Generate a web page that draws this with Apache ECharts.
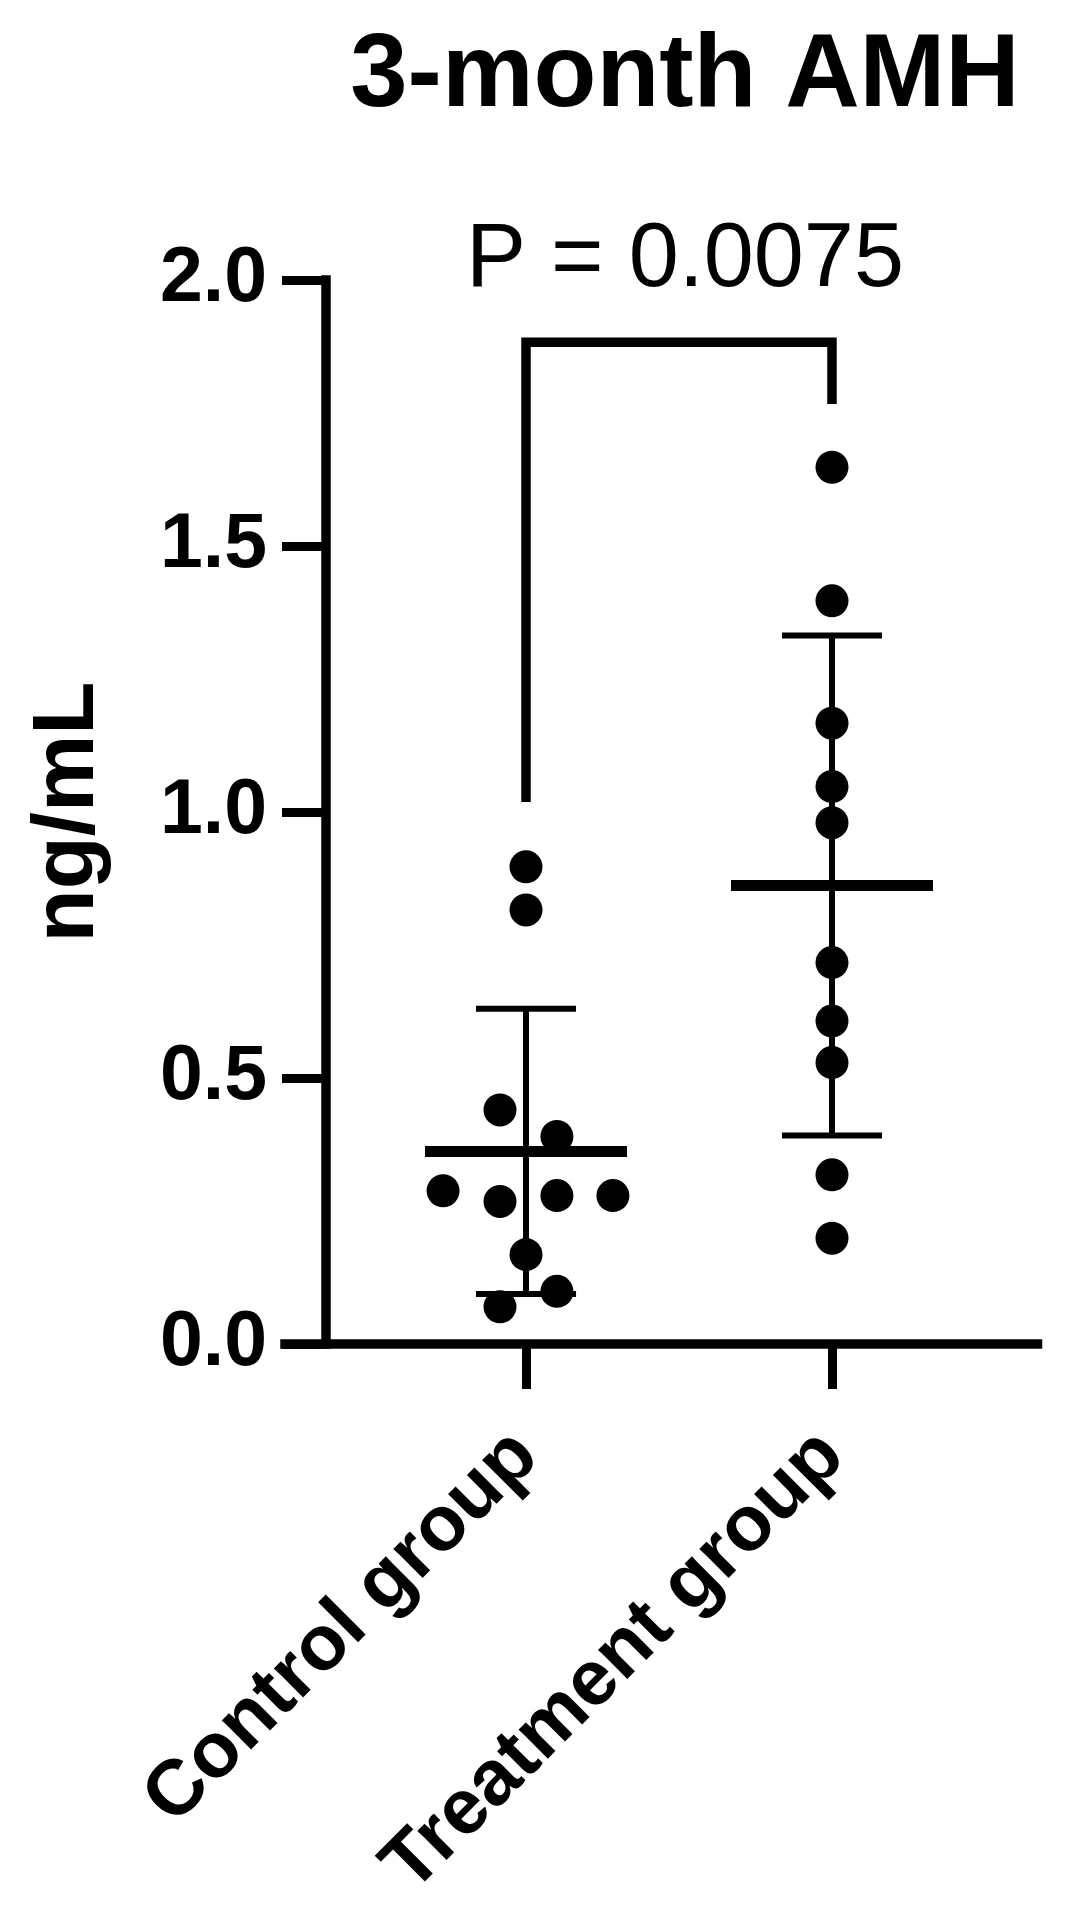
<!DOCTYPE html>
<html>
<head>
<meta charset="utf-8">
<title>3-month AMH</title>
<script src="https://cdn.jsdelivr.net/npm/echarts@6/dist/echarts.min.js"></script>
<style>
  html, body { margin: 0; padding: 0; background: #fff; }
  #chart { width: 1066px; height: 1928px; }
</style>
</head>
<body>
<div id="chart"></div>
<script>
// groups and their position on the x axis
var groupNames = ['Control group', 'Treatment group'];
var groupPos = [1, 2];

// individual values (ng/mL)
var controlVals = [0.897, 0.816, 0.440, 0.390, 0.288, 0.268, 0.279, 0.279, 0.168, 0.099, 0.070];
var controlJitter = [0, 0, -0.085, 0.101, -0.271, -0.085, 0.101, 0.284, 0, 0.101, -0.085];
var treatmentVals = [1.648, 1.397, 1.167, 1.048, 0.980, 0.717, 0.607, 0.529, 0.318, 0.199];
var treatmentJitter = [0, 0, 0, 0, 0, 0, 0, 0, 0, 0];

// mean and SD per group
var groupMean = [0.362, 0.862];
var groupSD = [0.268, 0.470];

// y ticks
var yTicks = [0, 0.5, 1.0, 1.5, 2.0];

// significance bracket: left leg bottom, bar height, right leg bottom
var bracketY = [1.019, 1.883, 1.767];
var pText = 'P = 0.0075';

var FONT = "'Liberation Sans', Arial, sans-serif";

var chart = echarts.init(document.getElementById('chart'), null, { renderer: 'canvas' });

function points(vals, jitter, x0) {
	var out = [];
	for (var i = 0; i < vals.length; i++) {
		out.push([x0 + jitter[i], vals[i]]);
	}
	return out;
}

var summaryData = [];
for (var g = 0; g < groupPos.length; g++) {
	summaryData.push([groupPos[g], groupMean[g], groupSD[g]]);
}

var bracketData = [
	[groupPos[0], bracketY[0]],
	[groupPos[0], bracketY[1]],
	[groupPos[1], bracketY[1]],
	[groupPos[1], bracketY[2]]
];

var option = {
	backgroundColor: '#fff',
	animation: false,
	title: [
		{
			text: '3-month AMH',
			left: 680,
			top: 21,
			textAlign: 'center',
			textStyle: { fontFamily: FONT, fontSize: 103, fontWeight: 'bold', color: '#000' }
		},
		{
			text: pText,
			left: 680,
			top: 211,
			textAlign: 'center',
			textStyle: { fontFamily: FONT, fontSize: 90, fontWeight: 'normal', color: '#000' }
		}
	],
	grid: {
		left: 285,
		right: 28.5,
		top: 280,
		bottom: 584,
		containLabel: false
	},
	xAxis: {
		type: 'value',
		min: 0.2124,
		max: 2.6716,
		splitLine: { show: false },
		axisLine: { show: true, onZero: false, lineStyle: { color: '#000', width: 9.5, cap: 'square' } },
		axisTick: {
			show: true,
			customValues: groupPos,
			length: 45,
			lineStyle: { color: '#000', width: 9 }
		},
		axisLabel: {
			show: true,
			customValues: groupPos,
			rotate: 45,
			margin: 100,
			fontFamily: FONT,
			fontSize: 78,
			fontWeight: 'bold',
			color: '#000',
			formatter: function (v) {
				var i = groupPos.indexOf(Math.round(v));
				return i >= 0 ? groupNames[i] : '';
			}
		}
	},
	yAxis: {
		type: 'value',
		min: yTicks[0],
		max: yTicks[yTicks.length - 1],
		interval: 0.5,
		offset: -41,
		name: 'ng/mL',
		nameLocation: 'middle',
		nameRotate: 90,
		nameGap: 213,
		nameTextStyle: { fontFamily: FONT, fontSize: 87, fontWeight: 'bold', color: '#000' },
		splitLine: { show: false },
		axisLine: { show: true, lineStyle: { color: '#000', width: 9.5, cap: 'square' } },
		axisTick: { show: true, length: 44, lineStyle: { color: '#000', width: 9 } },
		axisLabel: {
			margin: 59,
			fontFamily: FONT,
			fontSize: 77,
			fontWeight: 'bold',
			color: '#000',
			formatter: function (v) { return v.toFixed(1); }
		}
	},
	series: [
		{
			// mean line with SD whiskers
			type: 'custom',
			z: 2,
			clip: false,
			data: summaryData,
			encode: { x: 0, y: 1 },
			renderItem: function (params, api) {
				var x = api.value(0), m = api.value(1), sd = api.value(2);
				var c = api.coord([x, m]);
				var top = api.coord([x, m + sd]);
				var bot = api.coord([x, m - sd]);
				var meanHalf = api.size([0.66, 0])[0] / 2;
				var capHalf = api.size([0.327, 0])[0] / 2;
				var thin = { stroke: '#000', lineWidth: 6, fill: null };
				return {
					type: 'group',
					children: [
						{ type: 'line', shape: { x1: c[0], y1: top[1], x2: c[0], y2: bot[1] }, style: thin },
						{ type: 'line', shape: { x1: c[0] - capHalf, y1: top[1], x2: c[0] + capHalf, y2: top[1] }, style: thin },
						{ type: 'line', shape: { x1: c[0] - capHalf, y1: bot[1], x2: c[0] + capHalf, y2: bot[1] }, style: thin },
						{ type: 'line', shape: { x1: c[0] - meanHalf, y1: c[1], x2: c[0] + meanHalf, y2: c[1] },
							style: { stroke: '#000', lineWidth: 11, fill: null } }
					]
				};
			}
		},
		{
			name: 'Control group',
			type: 'scatter',
			z: 3,
			symbol: 'circle',
			symbolSize: 33,
			itemStyle: { color: '#000', opacity: 1 },
			data: points(controlVals, controlJitter, groupPos[0])
		},
		{
			name: 'Treatment group',
			type: 'scatter',
			z: 3,
			symbol: 'circle',
			symbolSize: 33,
			itemStyle: { color: '#000', opacity: 1 },
			data: points(treatmentVals, treatmentJitter, groupPos[1])
		},
		{
			// significance bracket
			type: 'line',
			z: 2,
			symbol: 'none',
			clip: false,
			lineStyle: { color: '#000', width: 9.5, cap: 'butt', join: 'miter' },
			data: bracketData
		}
	]
};

chart.setOption(option);
</script>
</body>
</html>
